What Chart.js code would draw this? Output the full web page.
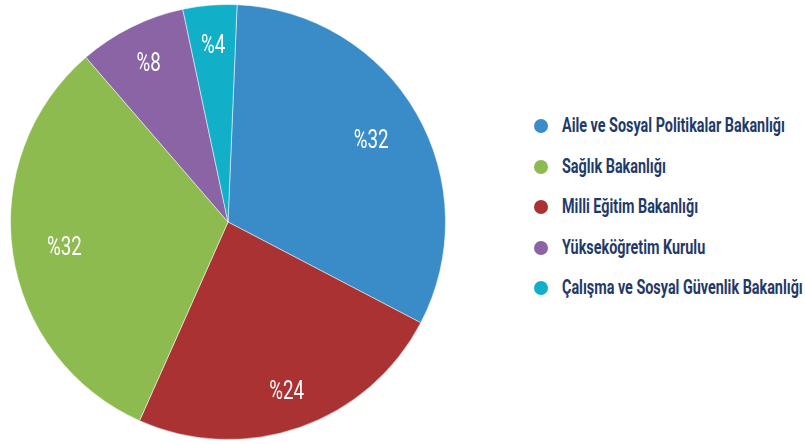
<!DOCTYPE html>
<html>
<head>
<meta charset="utf-8">
<script src="https://cdn.jsdelivr.net/npm/chart.js@4"></script>
<style>
  body { margin: 0; background: #fff; width: 805px; height: 444px; overflow: hidden; position: relative; }
  #kutu { position: absolute; left: 6px; top: 0; width: 444px; height: 444px; }
  #lejant { position: absolute; left: 534px; top: 112px; font-family: Roboto, sans-serif; font-weight: bold; font-size: 21px; line-height: 26px; color: #1f3a68; }
  .satir { height: 40.5px; display: flex; align-items: flex-start; white-space: nowrap; }
  .nokta { width: 14px; height: 14px; border-radius: 50%; margin-right: 14px; margin-top: 7px; flex: none; }
  .yazi { display: inline-block; transform-origin: 0 50%; }
</style>
</head>
<body>
<div id="kutu"><canvas id="pasta"></canvas></div>
<div id="lejant"></div>
<script>
// Kurumlar ve oranlar
var kurumlar = [
    'Aile ve Sosyal Politikalar Bakanlığı',
    'Milli Eğitim Bakanlığı',
    'Sağlık Bakanlığı',
    'Yükseköğretim Kurulu',
    'Çalışma ve Sosyal Güvenlik Bakanlığı'
];
var oranlar = [32, 24, 32, 8, 4];
var renkler = ['#3a8cc8', '#aa3232', '#8dbb50', '#8a64a4', '#12b0c8'];
var etiketler = ['%32', '%24', '%32', '%8', '%4'];
// Lejant sırası (resimdeki gibi)
var lejantSirasi = [0, 2, 1, 3, 4];

var lejant = document.getElementById('lejant');
lejantSirasi.forEach(function (i) {
    var satir = document.createElement('div');
    satir.className = 'satir';
    satir.innerHTML = '<span class="nokta" style="background:' + renkler[i] + '"></span><span class="yazi">' + kurumlar[i] + '</span>';
    lejant.appendChild(satir);
});

// Dar yazı tipi yok: ilk satır 223px genişliğe gelecek kadar sıkıştır
var yazilar = document.querySelectorAll('.yazi');
var oran = 223 / yazilar[0].getBoundingClientRect().width;
yazilar.forEach(function (y) {
    y.style.transform = 'scaleX(' + oran + ')';
});

// Dilimlerin içine yüzde yazıları
var etiketEklentisi = {
    id: 'etiketler',
    afterDatasetsDraw: function (chart) {
        var ctx = chart.ctx;
        var meta = chart.getDatasetMeta(0);
        meta.data.forEach(function (arc, i) {
            var p = arc.getProps(['x', 'y', 'startAngle', 'endAngle', 'outerRadius']);
            var aci = (p.startAngle + p.endAngle) / 2;
            // büyük dilimlerde yazı biraz daha içeride
            var r = p.outerRadius * (oranlar[i] >= 30 ? 0.76 : 0.82);
            ctx.save();
            ctx.translate(p.x + Math.cos(aci) * r, p.y + Math.sin(aci) * r);
            ctx.scale(0.75, 1);
            ctx.fillStyle = '#ffffff';
            ctx.font = '25px Roboto, sans-serif';
            ctx.textAlign = 'center';
            ctx.textBaseline = 'alphabetic';
            ctx.fillText(etiketler[i], 0, 9);
            ctx.restore();
        });
    }
};

new Chart(document.getElementById('pasta'), {
    type: 'pie',
    data: {
        labels: kurumlar,
        datasets: [{
            data: oranlar,
            backgroundColor: renkler,
            borderColor: 'rgba(255,255,255,0.5)',
            borderWidth: 1
        }]
    },
    options: {
        responsive: true,
        maintainAspectRatio: false,
        animation: false,
        rotation: 2.4,
        layout: { padding: 4 },
        plugins: {
            legend: { display: false },
            tooltip: { enabled: false }
        }
    },
    plugins: [etiketEklentisi]
});
</script>
</body>
</html>
